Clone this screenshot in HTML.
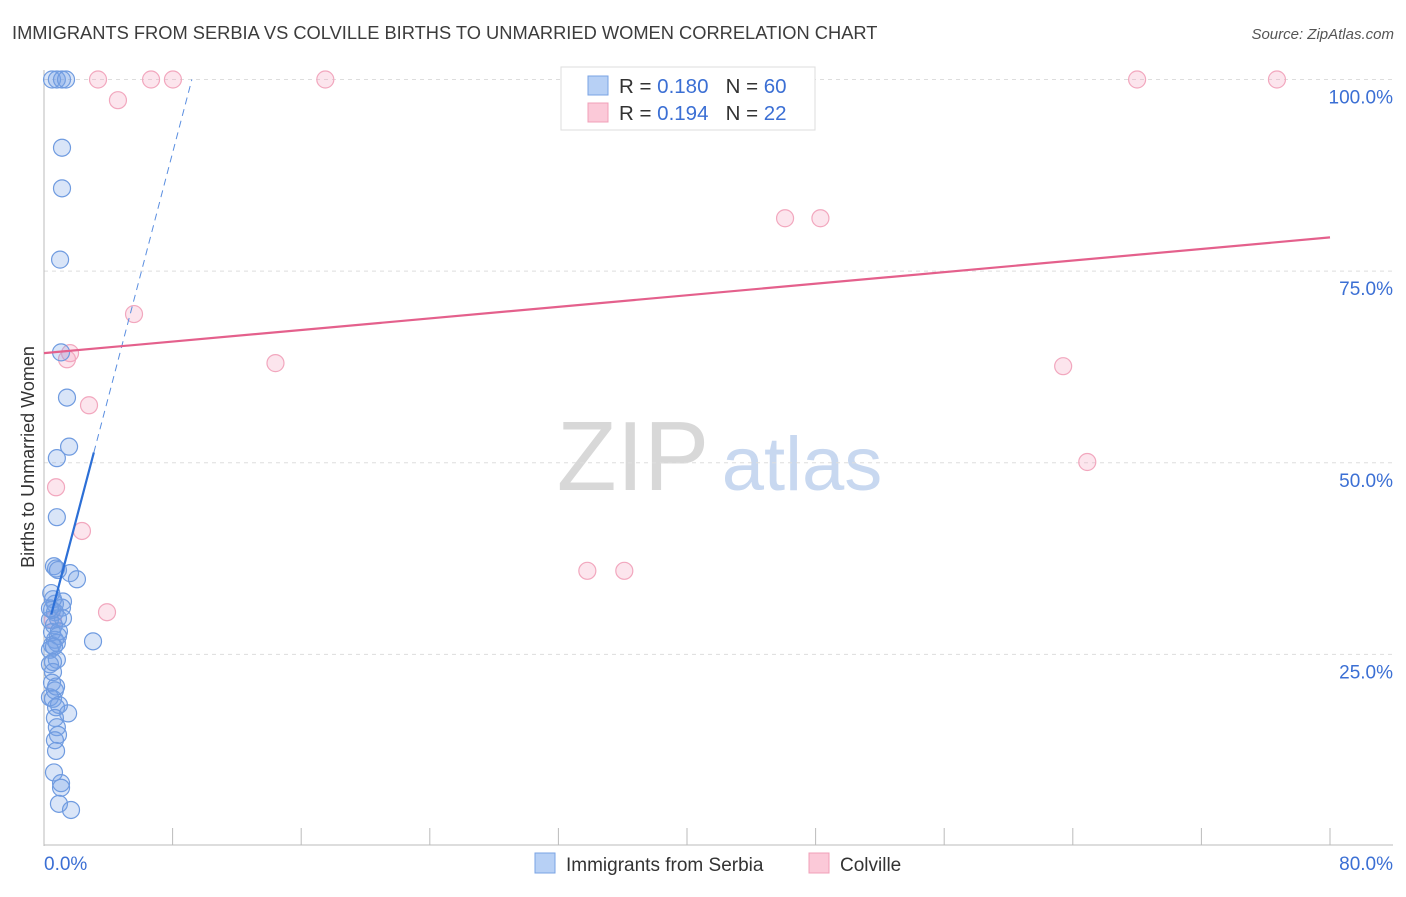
<!DOCTYPE html>
<html><head><meta charset="utf-8"><style>
body{margin:0;background:#fff;font-family:"Liberation Sans",sans-serif;}
svg text{font-family:"Liberation Sans",sans-serif;}
</style></head><body>
<svg id="chart" width="1406" height="892" viewBox="0 0 1406 892" xmlns="http://www.w3.org/2000/svg">
<text x="12" y="39" font-size="18.3" fill="#3c3c3c">IMMIGRANTS FROM SERBIA VS COLVILLE BIRTHS TO UNMARRIED WOMEN CORRELATION CHART</text>
<text x="1394" y="39" font-size="15" fill="#555" text-anchor="end" font-style="italic">Source: ZipAtlas.com</text>
<g>
<text x="633" y="490" font-size="98" fill="#d8d8d8" text-anchor="middle" font-family="Liberation Serif, serif">ZIP</text>
<text x="802" y="490" font-size="76" fill="#c8d8f0" text-anchor="middle">atlas</text>
</g>
<g id="grid"></g>
<g id="axes"></g>
<g id="marks"></g>
<text transform="translate(34,457) rotate(-90)" font-size="18" fill="#333" text-anchor="middle">Births to Unmarried Women</text>
<g>
<rect x="561" y="67" width="254" height="63" fill="#fff" stroke="#ddd"/>
<rect x="588" y="76" width="20" height="19" fill="#b7d0f5" stroke="#7aa3e4"/>
<rect x="588" y="103" width="20" height="19" fill="#fbc9d8" stroke="#f0a0b8"/>
<text x="619" y="93" font-size="20.5" fill="#333">R = <tspan fill="#3b6fd4">0.180</tspan>&#160;&#160;&#160;N = <tspan fill="#3b6fd4">60</tspan></text>
<text x="619" y="120" font-size="20.5" fill="#333">R = <tspan fill="#3b6fd4">0.194</tspan>&#160;&#160;&#160;N = <tspan fill="#3b6fd4">22</tspan></text>
</g>
<g>
<rect x="535" y="853" width="20" height="20" fill="#b7d0f5" stroke="#7aa3e4"/>
<text x="566" y="871" font-size="19" fill="#333">Immigrants from Serbia</text>
<rect x="809" y="853" width="20" height="20" fill="#fbc9d8" stroke="#f0a0b8"/>
<text x="840" y="871" font-size="19" fill="#333">Colville</text>
</g>
</svg>
<script>
const yTicks=[25,50,75,100];
const yTickLabels=["25.0%","50.0%","75.0%","100.0%"];
const xTickVals=[0,8,16,24,32,40,48,56,64,72,80];
const blueX=[0.5,0.8,1.12,1.37,1.12,1.12,1.0,1.06,1.43,1.56,0.8,0.8,0.62,0.75,1.62,2.05,0.87,1.18,1.12,0.68,0.56,0.68,0.87,1.18,3.05,0.37,0.62,0.5,0.87,0.68,0.8,0.5,0.37,0.8,0.37,0.56,0.5,0.68,0.37,0.56,0.93,0.75,1.5,0.68,0.8,0.87,0.68,0.75,0.62,1.06,1.06,0.93,1.68,0.5,0.62,0.37,0.75,0.56,0.93,0.45];
const blueY=[100,100,100,100,91.1,85.8,76.5,64.4,58.5,52.1,50.6,42.9,36.5,36.2,35.6,34.8,36.0,31.9,31.1,31.6,32.2,30.5,29.7,29.7,26.7,29.5,28.8,27.9,27.4,26.9,26.5,26.2,25.6,24.3,23.7,22.7,21.3,20.3,19.4,19.2,18.4,18.1,17.3,16.7,15.5,14.5,13.8,12.4,9.6,8.2,7.6,5.5,4.7,30.8,26.0,31.0,20.8,24.0,28.0,33.0];
const pinkX=[3.36,6.66,8.02,17.5,68.0,76.7,4.6,46.1,48.3,5.6,1.62,1.43,14.4,63.4,2.8,64.9,0.75,2.36,33.8,36.1,3.92,0.56];
const pinkY=[100,100,100,100,100,100,97.3,81.9,81.9,69.4,64.3,63.5,63.0,62.6,57.5,50.1,46.8,41.1,35.9,35.9,30.5,29.5];
const blueTrend=[26.6,7.98]; // intercept %, slope (%y per %x)
const pinkTrend=[64.3,79.4];
const X0=44,X1=1330,Y0=846,Y100=79.5;
const sx=v=>X0+(X1-X0)*v/80;
const sy=v=>Y0-(Y0-Y100)*v/100;
const NS="http://www.w3.org/2000/svg";
function mk(t,a,p){const e=document.createElementNS(NS,t);for(const k in a)e.setAttribute(k,a[k]);p.appendChild(e);return e;}
const grid=document.getElementById('grid'),axes=document.getElementById('axes'),marks=document.getElementById('marks');
yTicks.forEach((t,i)=>{
 const l=mk('line',{x1:X0,x2:1393,y1:sy(t),y2:sy(t),stroke:'#ddd','stroke-dasharray':'4,4'},grid);
 
 
 const tx=mk('text',{x:1393,y:sy(t)+24,'font-size':19,fill:'#3b6fd4','text-anchor':'end'},axes);
 tx.textContent=yTickLabels[i];
 
 
});
const ya=mk('line',{x1:X0,x2:X0,y1:70,y2:846,stroke:'#bbb'},axes);


const xa=mk('line',{x1:X0,x2:1393,y1:845,y2:845,stroke:'#bbb'},axes);


xTickVals.forEach(v=>{
 const t=mk('line',{x1:sx(v),x2:sx(v),y1:828,y2:845,stroke:'#bbb'},axes);
 
 
});
const xl0=mk('text',{x:44,y:870,'font-size':19,fill:'#3b6fd4'},axes);xl0.textContent='0.0%';


const xl1=mk('text',{x:1393,y:870,'font-size':19,fill:'#3b6fd4','text-anchor':'end'},axes);xl1.textContent='80.0%';


pinkX.forEach((x,i)=>{
 const c=mk('circle',{cx:sx(x),cy:sy(pinkY[i]),r:8.5,fill:'rgba(245,160,190,0.28)',stroke:'#f2a7be','stroke-width':1.2},marks);
 
 
});
blueX.forEach((x,i)=>{
 const c=mk('circle',{cx:sx(x),cy:sy(blueY[i]),r:8.5,fill:'rgba(120,160,230,0.28)',stroke:'#6f9be0','stroke-width':1.2},marks);
 
 
});
const bY=x=>blueTrend[0]+blueTrend[1]*x;
const bx0=0.45,bx1=3.1,bx2=9.2;
const bl=mk('line',{x1:sx(bx0),y1:sy(bY(bx0)),x2:sx(bx1),y2:sy(bY(bx1)),stroke:'#2c6fd6','stroke-width':2.2},marks);


const bd=mk('line',{x1:sx(bx1),y1:sy(bY(bx1)),x2:sx(bx2),y2:sy(bY(bx2)),stroke:'#5a8ee0','stroke-width':1,'stroke-dasharray':'7,5'},marks);


const pl=mk('line',{x1:sx(0),y1:sy(pinkTrend[0]),x2:sx(80),y2:sy(pinkTrend[1]),stroke:'#e4608c','stroke-width':2.2},marks);


</script>
</body></html>
